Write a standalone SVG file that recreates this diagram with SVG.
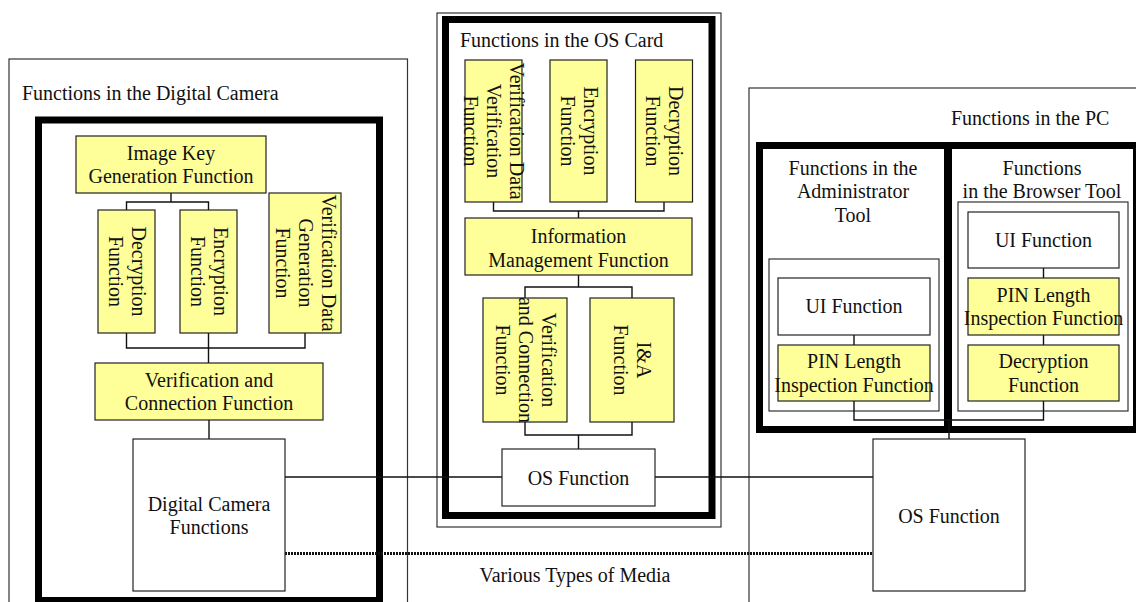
<svg xmlns="http://www.w3.org/2000/svg" width="1136" height="602" viewBox="0 0 1136 602">
<style>
text{font-family:"Liberation Serif","Times New Roman",serif;font-size:20px;fill:#111}
.c{text-anchor:middle}
.thin{fill:none;stroke:#333;stroke-width:1.2}
.thick{fill:none;stroke:#000;stroke-width:7}
.y{fill:#ffff99;stroke:#222;stroke-width:1.2}
.w{fill:#fff;stroke:#222;stroke-width:1.2}
.ln{fill:none;stroke:#111;stroke-width:1.4}
.dot{fill:none;stroke:#111;stroke-width:3;stroke-dasharray:2 1}
</style>
<rect width="1136" height="602" fill="#fff"/>

<g id="camera">
<rect class="thin" x="9" y="59" width="398.5" height="580"/>
<text x="22" y="100">Functions in the Digital Camera</text>
<rect class="thick" x="38.5" y="120" width="341" height="480.5"/>
</g>
<g id="oscard">
<rect class="thin" x="437" y="13" width="284" height="514"/>
<rect class="thick" x="445.5" y="19.5" width="266.5" height="496"/>
<text x="460" y="47">Functions in the OS Card</text>
</g>
<g id="pc">
<rect class="thin" x="749" y="88" width="420" height="540"/>
<text x="951" y="125">Functions in the PC</text>
</g>
<g id="admin-tool">
<rect class="thick" x="759.5" y="145.5" width="188" height="284"/>
<text class="c" x="853" y="175">Functions in the</text>
<text class="c" x="853" y="198">Administrator</text>
<text class="c" x="853" y="222">Tool</text>
<rect class="thin" x="769" y="259" width="170" height="152"/>
</g>
<g id="browser-tool">
<rect class="thick" x="948.5" y="145.5" width="188" height="284"/>
<text class="c" x="1042" y="175">Functions</text>
<text class="c" x="1042" y="198">in the Browser Tool</text>
<rect class="thin" x="958" y="202" width="170" height="209"/>
</g>

<g id="connectors">
<path class="ln" d="M171 193V202M126.5 210V202H208.5V210"/>
<path class="ln" d="M126.5 333V348H305V333M208.5 333V363"/>
<path class="ln" d="M209 420V439"/>
<path class="ln" d="M493.5 202V211H664V202M578.5 211V218"/>
<path class="ln" d="M578.5 275V287M525 298V287H632V298"/>
<path class="ln" d="M525 422V435H632V422M578.5 435V449"/>
<path class="ln" d="M1043.5 268V278M1043.5 335V345M854 335V345"/>
<path class="ln" d="M854 401V420H1043.5V401M949 420V439"/>
<path class="ln" d="M285 477H502M655 477H873"/>
<path class="dot" d="M285 553.5H873"/>
</g>

<g id="image-key">
<rect class="y" x="76" y="136" width="190" height="57"/>
<text class="c" x="171" y="160">Image Key</text>
<text class="c" x="171" y="183">Generation Function</text>
</g>
<g id="cam-decryption">
<rect class="y" x="98" y="210" width="57" height="123"/>
<text class="c" transform="translate(126.5 271.5) rotate(90)"><tspan x="0" y="-5">Decryption</tspan><tspan x="0" dy="23">Function</tspan></text>
</g>
<g id="cam-encryption">
<rect class="y" x="180" y="210" width="57" height="123"/>
<text class="c" transform="translate(208.5 271.5) rotate(90)"><tspan x="0" y="-5">Encryption</tspan><tspan x="0" dy="23">Function</tspan></text>
</g>
<g id="cam-verif-data-gen">
<rect class="y" x="269" y="193" width="72" height="140"/>
<text class="c" transform="translate(305 263) rotate(90)"><tspan x="0" y="-16.5">Verification Data</tspan><tspan x="0" dy="23">Generation</tspan><tspan x="0" dy="23">Function</tspan></text>
</g>
<g id="cam-verif-conn">
<rect class="y" x="95" y="363" width="228" height="57"/>
<text class="c" x="209" y="387">Verification and</text>
<text class="c" x="209" y="410">Connection Function</text>
</g>
<g id="cam-functions">
<rect class="w" x="133" y="439" width="152" height="152"/>
<text class="c" x="209" y="511">Digital Camera</text>
<text class="c" x="209" y="534">Functions</text>
</g>

<g id="card-verif-data-verif">
<rect class="y" x="465" y="60" width="57" height="142"/>
<text class="c" transform="translate(493.5 131) rotate(90)"><tspan x="0" y="-16.5">Verification Data</tspan><tspan x="0" dy="23">Verification</tspan><tspan x="0" dy="23">Function</tspan></text>
</g>
<g id="card-encryption">
<rect class="y" x="550" y="60" width="57" height="142"/>
<text class="c" transform="translate(578.5 131) rotate(90)"><tspan x="0" y="-5">Encryption</tspan><tspan x="0" dy="23">Function</tspan></text>
</g>
<g id="card-decryption">
<rect class="y" x="635.5" y="60" width="57" height="142"/>
<text class="c" transform="translate(664 131) rotate(90)"><tspan x="0" y="-5">Decryption</tspan><tspan x="0" dy="23">Function</tspan></text>
</g>
<g id="card-info-mgmt">
<rect class="y" x="465" y="218" width="227" height="57"/>
<text class="c" x="578.5" y="243">Information</text>
<text class="c" x="578.5" y="267">Management Function</text>
</g>
<g id="card-verif-conn">
<rect class="y" x="483" y="298" width="84" height="124"/>
<text class="c" transform="translate(525 360) rotate(90)"><tspan x="0" y="-16.5">Verification</tspan><tspan x="0" dy="23">and Connection</tspan><tspan x="0" dy="23">Function</tspan></text>
</g>
<g id="card-ia">
<rect class="y" x="590" y="298" width="84" height="124"/>
<text class="c" transform="translate(632 360) rotate(90)"><tspan x="0" y="-5">I&amp;A</tspan><tspan x="0" dy="23">Function</tspan></text>
</g>
<g id="card-os">
<rect class="w" x="502" y="449" width="153" height="57"/>
<text class="c" x="578.5" y="485">OS Function</text>
</g>

<g id="admin-ui">
<rect class="w" x="778" y="278" width="152" height="57"/>
<text class="c" x="854" y="313">UI Function</text>
</g>
<g id="admin-pin">
<rect class="y" x="778" y="345" width="152" height="56"/>
<text class="c" x="854" y="368">PIN Length</text>
<text class="c" x="854" y="392">Inspection Function</text>
</g>
<g id="browser-ui">
<rect class="w" x="968" y="212" width="151" height="56"/>
<text class="c" x="1043.5" y="247">UI Function</text>
</g>
<g id="browser-pin">
<rect class="y" x="968" y="278" width="151" height="57"/>
<text class="c" x="1043.5" y="302">PIN Length</text>
<text class="c" x="1043.5" y="325">Inspection Function</text>
</g>
<g id="browser-decryption">
<rect class="y" x="968" y="345" width="151" height="56"/>
<text class="c" x="1043.5" y="368">Decryption</text>
<text class="c" x="1043.5" y="392">Function</text>
</g>
<g id="pc-os">
<rect class="w" x="873" y="439" width="152" height="152"/>
<text class="c" x="949" y="523">OS Function</text>
</g>
<g id="media-label">
<text class="c" x="575" y="582">Various Types of Media</text>
</g>
</svg>
